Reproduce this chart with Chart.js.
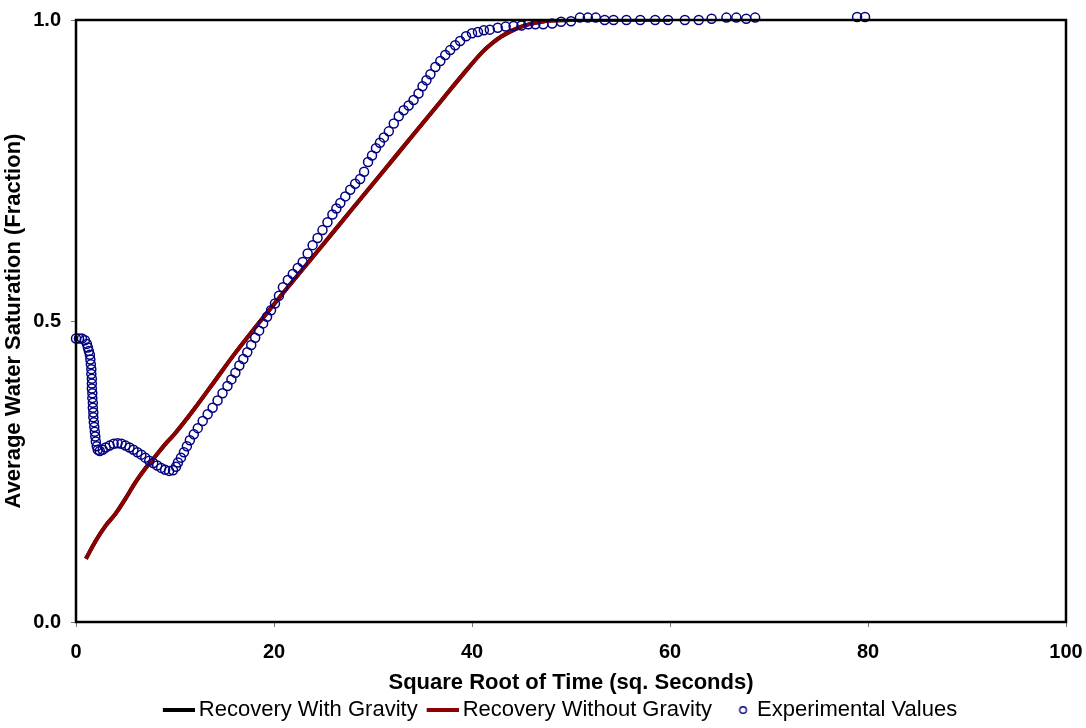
<!DOCTYPE html>
<html lang="en">
<head>
    <meta charset="UTF-8">
    <title>Average Water Saturation</title>
    <script src="https://cdn.jsdelivr.net/npm/chart.js"></script>
    <style>
        html, body { margin: 0; padding: 0; background: #fff; }
    </style>
</head>
<body>
    <canvas id="satChart" width="1086" height="728"></canvas>
    <script>
        // simulated curve (with and without gravity overlap)
        const simX = [1, 2, 3, 4, 5, 6, 7, 8, 9, 10, 12, 14, 16, 18, 20, 22, 25, 28, 31, 34, 37, 39, 41, 42, 43, 44, 45, 46, 47, 48, 50, 55, 60];
        const simY = [0.105, 0.135, 0.16, 0.18, 0.205, 0.232, 0.255, 0.275, 0.295, 0.313, 0.355, 0.4, 0.445, 0.487, 0.528, 0.568, 0.628, 0.688, 0.748, 0.808, 0.868, 0.908, 0.946, 0.961, 0.973, 0.982, 0.989, 0.994, 0.997, 0.999, 1.0, 1.0, 1.0];

        // experimental points
        const expX = [0.0, 0.3, 0.6, 0.9, 1.1, 1.2, 1.3, 1.4, 1.45, 1.5, 1.55, 1.55, 1.6, 1.6, 1.6, 1.65, 1.65, 1.7, 1.7, 1.75, 1.75, 1.8, 1.85, 1.9, 1.95, 2.0, 2.1, 2.2, 2.4, 2.7,
            3.0, 3.4, 3.8, 4.2, 4.6, 5.0, 5.4, 5.8, 6.2, 6.6, 7.0, 7.4, 7.8, 8.2, 8.6, 9.0, 9.4, 9.8, 10.1, 10.3,
            10.6, 10.9, 11.2, 11.5, 11.9, 12.3, 12.8, 13.3, 13.8, 14.3, 14.8, 15.3, 15.7, 16.1, 16.5, 16.9, 17.3, 17.7, 18.1, 18.5,
            18.9, 19.3, 19.7, 20.1, 20.5, 20.9, 21.4, 21.9, 22.4, 22.9, 23.4, 23.9, 24.4, 24.9, 25.4, 25.9, 26.3, 26.7, 27.2, 27.7,
            28.2, 28.7, 29.1, 29.5, 29.9, 30.3, 30.7, 31.1, 31.6, 32.1, 32.6, 33.1, 33.6, 34.1, 34.6, 35.0, 35.4, 35.8, 36.3, 36.8,
            37.3, 37.8, 38.3, 38.8, 39.4, 40.0, 40.6, 41.2, 41.8, 42.6, 43.4, 44.2, 45.0, 45.7, 46.4, 47.2, 48.1, 49.0, 50.0, 50.9,
            51.7, 52.5, 53.4, 54.3, 55.6, 57.0, 58.5, 59.8, 61.5, 62.9, 64.2, 65.7, 66.7, 67.7, 68.6, 78.9, 79.7];
        const expY = [0.471, 0.471, 0.471, 0.468, 0.462, 0.456, 0.45, 0.444, 0.436, 0.428, 0.42, 0.412, 0.404, 0.396, 0.388, 0.38, 0.372, 0.364, 0.356, 0.348, 0.34, 0.332, 0.324, 0.316, 0.308, 0.3, 0.292, 0.286, 0.284, 0.286,
            0.29, 0.293, 0.296, 0.297, 0.296, 0.293, 0.29, 0.286, 0.282, 0.278, 0.273, 0.268, 0.264, 0.26, 0.256, 0.253, 0.251, 0.252, 0.258, 0.265,
            0.273, 0.282, 0.292, 0.302, 0.312, 0.322, 0.334, 0.345, 0.356, 0.368, 0.38, 0.392, 0.403, 0.414, 0.426, 0.437, 0.448, 0.46, 0.472, 0.484,
            0.496, 0.507, 0.518, 0.529, 0.542, 0.556, 0.568, 0.578, 0.588, 0.598, 0.612, 0.626, 0.638, 0.651, 0.664, 0.677, 0.687, 0.696, 0.707, 0.718,
            0.728, 0.736, 0.748, 0.764, 0.775, 0.787, 0.796, 0.805, 0.815, 0.828, 0.84, 0.85, 0.858, 0.867, 0.878, 0.89, 0.9, 0.91, 0.922, 0.932,
            0.942, 0.95, 0.958, 0.965, 0.973, 0.978, 0.98, 0.983, 0.984, 0.987, 0.989, 0.99, 0.991, 0.993, 0.993, 0.993, 0.994, 0.997, 0.998, 1.004,
            1.004, 1.004, 1.0, 1.0, 1.0, 1.0, 1.0, 1.0, 1.0, 1.0, 1.002, 1.004, 1.004, 1.002, 1.004, 1.005, 1.005];

        const xTicks = [0, 20, 40, 60, 80, 100];
        const yTicks = [0.0, 0.5, 1.0];

        const toPts = (xs, ys) => xs.map((x, i) => ({ x: x, y: ys[i] }));

        // legend markers: the drawn line sits at the right of its canvas so the text follows it closely
        function legendLine(color) {
            const c = document.createElement('canvas');
            c.width = 45;
            c.height = 6;
            const g = c.getContext('2d');
            g.fillStyle = color;
            g.fillRect(13, 1, 32, 4);
            return c;
        }
        const legendCircle = document.createElement('canvas');
        legendCircle.width = 40;
        legendCircle.height = 12;
        const lc = legendCircle.getContext('2d');
        lc.strokeStyle = '#000080';
        lc.lineWidth = 1.4;
        lc.beginPath();
        lc.arc(32.5, 6, 3.3, 0, Math.PI * 2);
        lc.stroke();
        const legendMarks = [legendLine('#000000'), legendLine('#8b0000'), legendCircle];

        // black frame round the plot area, legend nudged a little to the left
        const frame = {
            id: 'frame',
            afterLayout(chart) {
                chart.legend.left -= 14;
                chart.legend.right -= 14;
            },
            afterDatasetsDraw(chart) {
                const a = chart.chartArea;
                const c = chart.ctx;
                c.save();
                c.strokeStyle = '#000';
                c.lineWidth = 2.5;
                c.strokeRect(a.left, a.top, a.right - a.left, a.bottom - a.top);
                c.restore();
            }
        };

        const ctx = document.getElementById('satChart').getContext('2d');
        new Chart(ctx, {
            type: 'scatter',
            data: {
                datasets: [{
                    label: 'Recovery With Gravity',
                    data: toPts(simX, simY),
                    showLine: true,
                    borderColor: '#000000',
                    backgroundColor: '#000000',
                    borderWidth: 4,
                    pointRadius: 0,
                    tension: 0.4,
                    order: 3
                }, {
                    label: 'Recovery Without Gravity',
                    data: toPts(simX, simY),
                    showLine: true,
                    borderColor: '#8b0000',
                    backgroundColor: '#8b0000',
                    borderWidth: 4,
                    pointRadius: 0,
                    tension: 0.4,
                    order: 2
                }, {
                    label: 'Experimental Values',
                    data: toPts(expX, expY),
                    showLine: false,
                    borderColor: '#000080',
                    backgroundColor: 'rgba(0,0,0,0)',
                    pointRadius: 4.5,
                    pointBorderWidth: 1.5,
                    clip: false,
                    order: 1
                }]
            },
            options: {
                responsive: false,
                animation: false,
                layout: { padding: { top: 20, right: 20, left: 0, bottom: 0 } },
                plugins: {
                    tooltip: { enabled: false },
                    legend: {
                        position: 'bottom',
                        fullSize: false,
                        maxHeight: 32,
                        labels: {
                            usePointStyle: true,
                            pointStyleWidth: 31,
                            padding: 3,
                            color: '#000',
                            font: { family: 'Arial, "Liberation Sans"', size: 22 },
                            generateLabels: chart => chart.data.datasets.map((ds, i) => ({
                                text: ds.label,
                                fillStyle: ds.borderColor,
                                strokeStyle: ds.borderColor,
                                lineWidth: 0,
                                pointStyle: legendMarks[i],
                                hidden: false,
                                datasetIndex: i
                            }))
                        }
                    }
                },
                scales: {
                    x: {
                        type: 'linear',
                        min: 0,
                        max: 100,
                        afterFit: s => {
                            s.height = 74;
                            s.paddingLeft = 0;
                            s.paddingRight = 0;
                        },
                        afterBuildTicks: s => { s.ticks = xTicks.map(v => ({ value: v })); },
                        grid: { drawOnChartArea: false, tickLength: 5, color: '#777' },
                        border: { display: false },
                        ticks: {
                            color: '#000',
                            padding: 13,
                            font: { family: 'Arial, "Liberation Sans"', size: 20, weight: 'bold' }
                        },
                        title: {
                            display: true,
                            text: 'Square Root of Time (sq. Seconds)',
                            color: '#000',
                            padding: { top: 0, bottom: 0 },
                            font: { family: 'Arial, "Liberation Sans"', size: 22, weight: 'bold' }
                        }
                    },
                    y: {
                        type: 'linear',
                        min: 0,
                        max: 1,
                        afterFit: s => {
                            s.width = 76;
                            s.paddingTop = 0;
                            s.paddingBottom = 0;
                        },
                        afterBuildTicks: s => { s.ticks = yTicks.map(v => ({ value: v })); },
                        grid: { drawOnChartArea: false, tickLength: 5, color: '#777' },
                        border: { display: false },
                        ticks: {
                            color: '#000',
                            padding: 10,
                            callback: v => v.toFixed(1),
                            font: { family: 'Arial, "Liberation Sans"', size: 20, weight: 'bold' }
                        },
                        title: {
                            display: true,
                            text: 'Average Water Saturation (Fraction)',
                            color: '#000',
                            padding: { top: 1, bottom: 0 },
                            font: { family: 'Arial, "Liberation Sans"', size: 22, weight: 'bold' }
                        }
                    }
                }
            },
            plugins: [frame]
        });
    </script>
</body>
</html>
